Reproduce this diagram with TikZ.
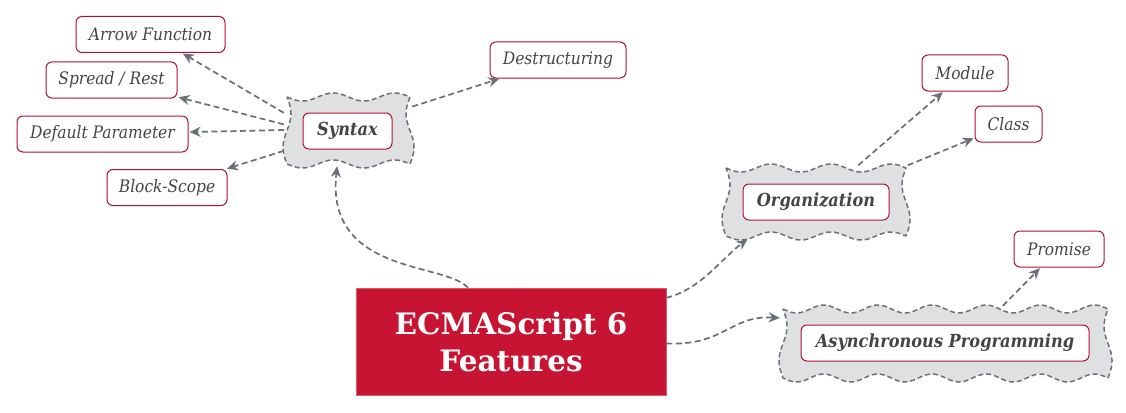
\documentclass[tikz,border=0pt]{standalone}
\usepackage{fontspec}
\setmainfont{DejaVu Serif}
\newfontfamily\condfont{DejaVu Serif Condensed}
\usetikzlibrary{arrows.meta}
\definecolor{crim}{HTML}{C71433}
\definecolor{leafred}{HTML}{B0112E}
\definecolor{txtgray}{HTML}{444444}
\definecolor{wavefill}{HTML}{DFE0E2}
\definecolor{wavedraw}{HTML}{6D7078}
\definecolor{conncol}{HTML}{6B6F78}
\tikzset{
  leaf/.style={draw=leafred, line width=1pt, rounded corners=6pt, fill=white,
    text=txtgray, font=\condfont\itshape\fontsize{17.2}{20}\selectfont, inner sep=0pt, minimum height=36pt},
  hub/.style={draw=leafred, line width=1pt, rounded corners=6pt, fill=white,
    text=txtgray, font=\condfont\bfseries\itshape\fontsize{18}{21}\selectfont, inner sep=0pt, minimum height=36pt},
  region/.style={inner sep=0pt},
  wavestyle/.style={fill=wavefill, draw=wavedraw, line width=1.5pt, dash pattern=on 5pt off 3pt, line join=round},
  conn/.style={draw=conncol, line width=1.7pt, dash pattern=on 6pt off 3.5pt,
    -{Stealth[length=11pt,width=10pt,inset=3.5pt]}, shorten >=1pt},
}
\newcommand\wavyregion[5]{%
  \path[wavestyle]
    plot[domain=#1:#3,samples=120,smooth] (\x,{#2+4*sin((\x-#1)/(#3-#1)*360*#5)})
    -- plot[domain=#2:#4,samples=40,smooth] ({#3-4*sin((\x-#2)/(#4-#2)*360)},\x)
    -- plot[domain=#3:#1,samples=120,smooth] (\x,{#4+4*sin((\x-#1)/(#3-#1)*360*#5)})
    -- plot[domain=#4:#2,samples=40,smooth] ({#1+4*sin((\x-#2)/(#4-#2)*360)},\x) -- cycle;}
\begin{document}
\begin{tikzpicture}[x=1pt,y=-1pt]
\useasboundingbox (0,0) rectangle (1126,412);
% wavy regions
\wavyregion{287}{97}{410}{164}{2}
\wavyregion{726}{168}{906}{236}{3}
\wavyregion{783}{309}{1108}{378}{6}
\node[region, minimum width=128pt, minimum height=70pt] (synw) at (348,130) {};
\node[region, minimum width=183pt, minimum height=73pt] (orgw) at (816,202) {};
\node[region, minimum width=329pt, minimum height=74pt] (asw) at (945.5,343) {};
% hubs
\node[hub, minimum width=89pt] (syn) at (347.5,131) {Syntax};
\node[hub, minimum width=146pt] (org) at (816,202) {Organization};
\node[hub, minimum width=288pt] (asy) at (945,343) {Asynchronous Programming};
% leaves
\node[leaf, minimum width=149pt] (af) at (150.5,34.5) {Arrow Function};
\node[leaf, minimum width=131pt] (sr) at (111.5,80) {Spread / Rest};
\node[leaf, minimum width=171pt] (dp) at (102.5,134) {Default Parameter};
\node[leaf, minimum width=120pt] (bs) at (167,187.5) {Block-Scope};
\node[leaf, minimum width=136pt] (de) at (558,60) {Destructuring};
\node[leaf, minimum width=86pt] (mo) at (965,73) {Module};
\node[leaf, minimum width=67pt] (cl) at (1008.5,124) {Class};
\node[leaf, minimum width=90pt] (pr) at (1059,249) {Promise};
% main
\node[fill=crim, draw=crim!70!white, line width=0.6pt, minimum width=310pt, minimum height=107pt,
  text=white, font=\bfseries\fontsize{29.5}{37}\selectfont, align=center, inner sep=0pt]
  (main) at (511,341.5) {ECMAScript 6\\Features};
% connectors
\draw[conn] (synw.165) -- (af);
\draw[conn] (synw.175) -- (sr);
\draw[conn] (synw.180) -- (dp);
\draw[conn] (synw.198) -- (bs);
\draw[conn] (synw.20) -- (de);
\draw[conn] (orgw.41) -- (mo);
\draw[conn] (orgw.north east) -- (cl);
\draw[conn] (asw.33) -- (pr);
\draw[conn] ([xshift=-43pt]main.north) .. controls (445,262) and (325,275) .. (synw.253);
\draw[conn] ([yshift=-10pt]main.north east) .. controls (700,290) and (722,258) .. ([xshift=24pt]orgw.south west);
\draw[conn] ([yshift=-2pt]main.east) .. controls (725,346) and (730,315) .. ([yshift=25pt]asw.west);
\end{tikzpicture}
\end{document}
